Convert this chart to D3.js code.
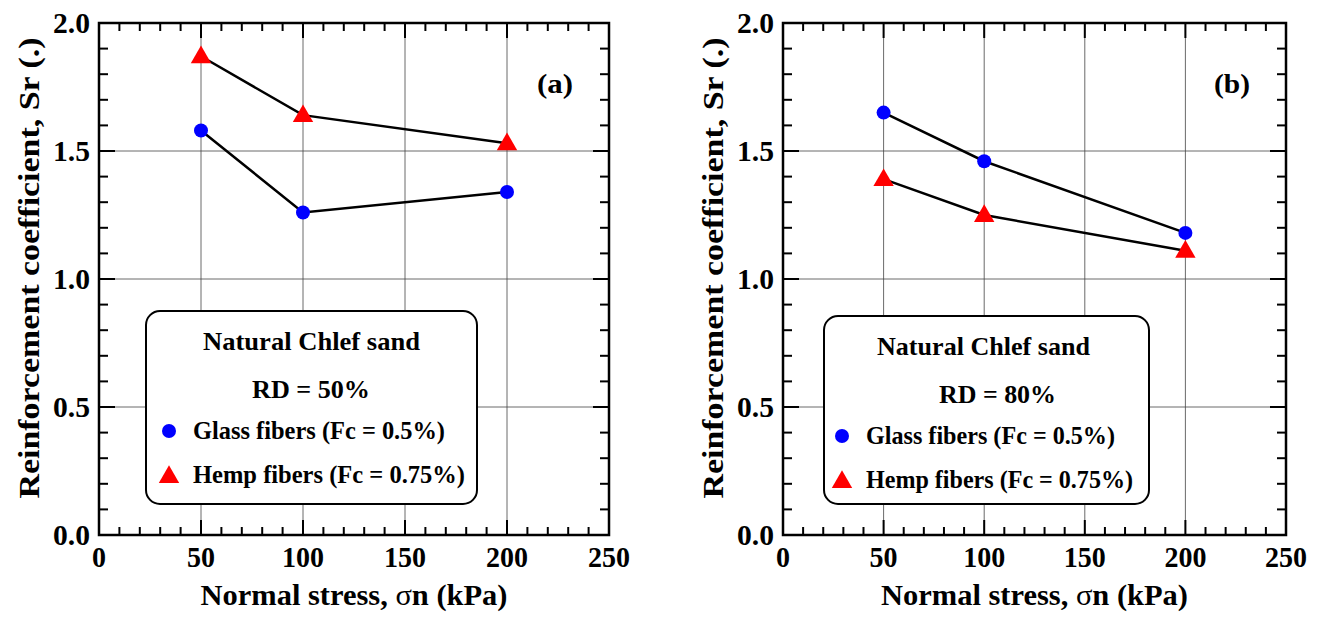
<!DOCTYPE html>
<html>
<head>
<meta charset="utf-8">
<script src="https://cdn.jsdelivr.net/npm/d3@7"></script>
<style>
  body { margin: 0; background: #fff; }
  text { font-family: "Liberation Serif", "Times New Roman", serif; font-weight: bold; fill: #000; }
</style>
</head>
<body>
<div id="chart"></div>
<script>
// values
var stress = [50, 100, 200];
var glassA = [1.58, 1.26, 1.34];
var hempA = [1.87, 1.64, 1.53];
var glassB = [1.65, 1.46, 1.18];
var hempB = [1.39, 1.25, 1.11];
var xTicks = [0, 50, 100, 150, 200, 250];
var yTicks = [0.0, 0.5, 1.0, 1.5, 2.0];

var svg = d3.select("#chart").append("svg")
  .attr("width", 1323).attr("height", 627);

// width of a tick label: digits ~14px, point ~9px
function labW(s) {
  return s.split("").reduce((a, c) => a + (c === "." ? 9 : 14), 0);
}

function panel(opt) {
  var x = d3.scaleLinear().domain([0, 250]).range([opt.left, opt.right]);
  var y = d3.scaleLinear().domain([0, 2]).range([535, 23]);
  var g = svg.append("g");

  // grid at major ticks
  g.selectAll(".gx").data([50, 100, 150, 200]).enter().append("line")
    .attr("x1", d => x(d)).attr("x2", d => x(d))
    .attr("y1", y(0)).attr("y2", y(2))
    .attr("stroke", "#444").attr("stroke-width", 0.8);
  g.selectAll(".gy").data([0.5, 1.0, 1.5]).enter().append("line")
    .attr("y1", d => y(d)).attr("y2", d => y(d))
    .attr("x1", x(0)).attr("x2", x(250))
    .attr("stroke", "#444").attr("stroke-width", 0.8);

  // ticks on all four sides, pointing inward
  var xt = d3.range(10, 250, 10);
  var yt = d3.range(1, 20).map(d => d / 10);
  xt.forEach(function(d) {
    var len = d % 50 === 0 ? 15 : 8;
    g.append("line").attr("x1", x(d)).attr("x2", x(d)).attr("y1", y(0)).attr("y2", y(0) - len)
      .attr("stroke", "#000").attr("stroke-width", 2);
    g.append("line").attr("x1", x(d)).attr("x2", x(d)).attr("y1", y(2)).attr("y2", y(2) + len)
      .attr("stroke", "#000").attr("stroke-width", 2);
  });
  yt.forEach(function(d) {
    var len = Math.round(d * 10) % 5 === 0 ? 16 : 9;
    g.append("line").attr("y1", y(d)).attr("y2", y(d)).attr("x1", x(0)).attr("x2", x(0) + len)
      .attr("stroke", "#000").attr("stroke-width", 2);
    g.append("line").attr("y1", y(d)).attr("y2", y(d)).attr("x1", x(250)).attr("x2", x(250) - len)
      .attr("stroke", "#000").attr("stroke-width", 2);
  });

  g.append("rect")
    .attr("x", x(0)).attr("y", y(2))
    .attr("width", x(250) - x(0)).attr("height", y(0) - y(2))
    .attr("fill", "none").attr("stroke", "#000").attr("stroke-width", 2.5);

  // tick labels
  g.selectAll(".xl").data(xTicks).enter().append("text")
    .attr("x", d => x(d)).attr("y", 567)
    .attr("text-anchor", "middle").attr("font-size", 29)
    .attr("textLength", d => labW(String(d))).attr("lengthAdjust", "spacingAndGlyphs")
    .text(d => d);
  g.selectAll(".yl").data(yTicks).enter().append("text")
    .attr("x", x(0) - 9).attr("y", d => y(d)).attr("dy", "0.35em")
    .attr("text-anchor", "end").attr("font-size", 29)
    .attr("textLength", d => labW(d.toFixed(1))).attr("lengthAdjust", "spacingAndGlyphs")
    .text(d => d.toFixed(1));

  // axis titles
  var xt2 = g.append("text")
    .attr("x", (x(0) + x(250)) / 2).attr("y", 605)
    .attr("text-anchor", "middle").attr("font-size", 30)
    .attr("textLength", 307).attr("lengthAdjust", "spacingAndGlyphs");
  xt2.append("tspan").text("Normal stress, ");
  xt2.append("tspan").attr("font-weight", "normal").text("\u03C3");
  xt2.append("tspan").text("n (kPa)");

  g.append("text")
    .attr("transform", "translate(" + (x(0) - 60) + "," + 268 + ") rotate(-90)")
    .attr("text-anchor", "middle").attr("font-size", 30)
    .attr("textLength", 461).attr("lengthAdjust", "spacingAndGlyphs")
    .text("Reinforcement coefficient, Sr (.)");

  g.append("text").attr("x", x(250) - 36).attr("y", 93)
    .attr("text-anchor", "end").attr("font-size", 27)
    .attr("textLength", 36).attr("lengthAdjust", "spacingAndGlyphs")
    .text(opt.tag);

  var line = d3.line().x((d, i) => x(stress[i])).y(d => y(d));
  [opt.glass, opt.hemp].forEach(function(s) {
    g.append("path").attr("d", line(s))
      .attr("fill", "none").attr("stroke", "#000").attr("stroke-width", 2.5);
  });

  var tri = d3.symbol().type(d3.symbolTriangle).size(180);
  g.selectAll(".gc").data(opt.glass).enter().append("circle")
    .attr("cx", (d, i) => x(stress[i])).attr("cy", d => y(d))
    .attr("r", 7).attr("fill", "#0000ff");
  g.selectAll(".ht").data(opt.hemp).enter().append("path")
    .attr("d", tri)
    .attr("transform", (d, i) => "translate(" + x(stress[i]) + "," + (y(d) + 1) + ")")
    .attr("fill", "#ff0000");

  // legend box
  var L = opt.legend;
  g.append("rect")
    .attr("x", L.x).attr("y", L.y).attr("width", L.w).attr("height", L.h)
    .attr("rx", 14).attr("ry", 14)
    .attr("fill", "#fff").attr("stroke", "#000").attr("stroke-width", 2);
  g.append("text").attr("x", L.t1[0]).attr("y", L.y + 39)
    .attr("font-size", 26).attr("textLength", L.t1[1]).attr("lengthAdjust", "spacingAndGlyphs")
    .text("Natural Chlef sand");
  g.append("text").attr("x", L.t2[0]).attr("y", L.y + 87)
    .attr("font-size", 26).attr("textLength", L.t2[1]).attr("lengthAdjust", "spacingAndGlyphs")
    .text(opt.rd);
  g.append("circle").attr("cx", L.mx).attr("cy", L.y + 120).attr("r", 7).attr("fill", "#0000ff");
  g.append("text").attr("x", L.tx).attr("y", L.y + 128)
    .attr("font-size", 26).attr("textLength", L.t3).attr("lengthAdjust", "spacingAndGlyphs")
    .text("Glass fibers (Fc = 0.5%)");
  g.append("path").attr("d", tri)
    .attr("transform", "translate(" + L.mx + "," + (L.y + 166) + ")")
    .attr("fill", "#ff0000");
  g.append("text").attr("x", L.tx).attr("y", L.y + 172)
    .attr("font-size", 26).attr("textLength", L.t4).attr("lengthAdjust", "spacingAndGlyphs")
    .text("Hemp fibers (Fc = 0.75%)");
}

panel({ left: 99, right: 609, glass: glassA, hemp: hempA, tag: "(a)", rd: "RD = 50%",
  legend: { x: 146, y: 311, w: 331, h: 193, mx: 169, tx: 193,
    t1: [203, 217], t2: [252, 118], t3: 252, t4: 272 } });
panel({ left: 783, right: 1286, glass: glassB, hemp: hempB, tag: "(b)", rd: "RD = 80%",
  legend: { x: 824, y: 316, w: 325, h: 188, mx: 842, tx: 866,
    t1: [877, 213], t2: [939, 117], t3: 249, t4: 267 } });
</script>
</body>
</html>
